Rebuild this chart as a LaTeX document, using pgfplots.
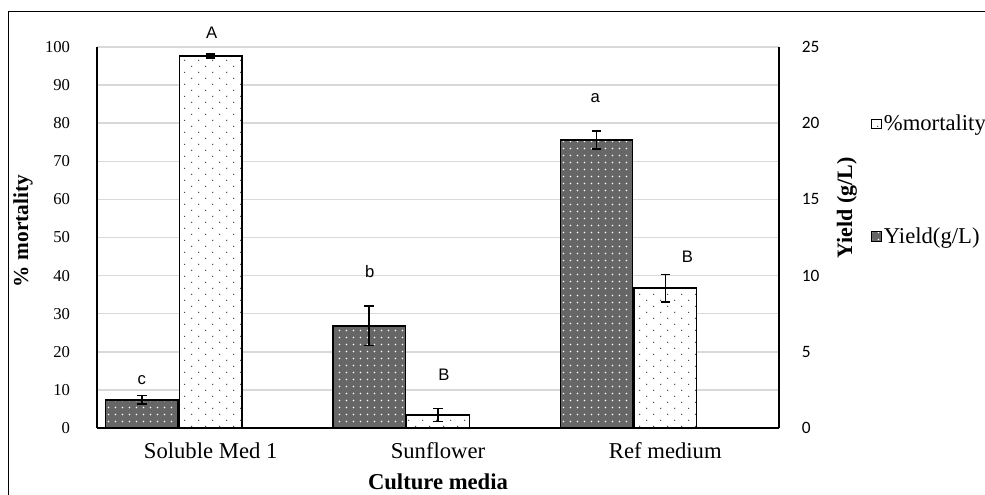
\documentclass[border=0pt]{standalone}
\usepackage{fontspec}
\setmainfont{Liberation Serif}
\newfontfamily\arialf{Liberation Sans}
\newfontfamily\calibrif{Carlito}
\usepackage{pgfplots}
\pgfplotsset{compat=1.18}
\usetikzlibrary{patterns}
\definecolor{gridgray}{RGB}{217,217,217}
\pgfdeclarepatternformonly{sparsedots}{\pgfqpoint{-1pt}{-1pt}}{\pgfqpoint{11.5pt}{10pt}}{\pgfqpoint{10.5pt}{9pt}}{%
  \pgfpathcircle{\pgfqpoint{2pt}{2pt}}{0.55pt}%
  \pgfpathcircle{\pgfqpoint{7.25pt}{6.5pt}}{0.55pt}%
  \pgfusepath{fill}}
\pgfdeclarepatternformonly{whitedots}{\pgfqpoint{-1pt}{-1pt}}{\pgfqpoint{6pt}{6pt}}{\pgfqpoint{5.25pt}{5.25pt}}{%
  \pgfpathcircle{\pgfqpoint{2.6pt}{2.6pt}}{0.7pt}%
  \pgfusepath{fill}}
\pgfplotsset{
  sqlegend/.style={legend image code/.code={\draw[##1, line width=0.7pt] (0pt,-3.6pt) rectangle (7.2pt,3.6pt);}},
  mortstyle/.style={fill=white, draw=black, line width=1.1pt, postaction={pattern=sparsedots, pattern color=black!75}},
  yieldstyle/.style={fill=black!60, draw=black, line width=1.1pt, postaction={pattern=whitedots, pattern color=white}},
}
\begin{document}
\begin{tikzpicture}
\useasboundingbox (0,0) rectangle (738.75pt,371.25pt);
\draw[line width=0.75pt] (6pt,-5pt) -- (6pt,362.25pt) -- (745pt,362.25pt);
% left axis: mortality
\begin{axis}[
  at={(72.75pt,50.25pt)}, anchor=south west,
  scale only axis, width=511.5pt, height=285.75pt,
  xmin=-0.5, xmax=2.5, ymin=0, ymax=100,
  axis x line*=bottom, axis y line*=left,
  axis line style={line width=1.6pt, -},
  xtick={0,1,2}, xticklabels={Soluble Med 1, Sunflower, Ref medium},
  ytick={0,10,...,100},
  major tick length=0pt,
  ymajorgrids, grid style={gridgray, line width=1.1pt},
  xticklabel style={font=\fontsize{17}{20}\selectfont, inner sep=0pt, anchor=north, yshift=-11pt},
  yticklabel style={font=\fontsize{12.5}{15}\selectfont, inner sep=0pt, anchor=east, xshift=-20pt},
  /pgf/number format/assume math mode=true,
  ylabel={\% mortality}, xlabel={Culture media},
  ylabel style={font=\bfseries\fontsize{16}{19}\selectfont, at={(rel axis cs:-0.1085,0.517)}, anchor=center},
  xlabel style={font=\bfseries\fontsize{17}{20}\selectfont, at={(rel axis cs:0.5,-0.1417)}, anchor=center},
  clip=false,
]
\addplot[ybar, bar width=0.275, bar shift=0, mortstyle,
  error bars/.cd, y dir=both, y explicit,
  error bar style={line width=1.2pt, black},
  error mark options={rotate=90, line width=1.2pt, mark size=3.6pt, black}]
  coordinates {(0,97.6) +- (0,0.5) (1,3.4) +- (0,1.7) (2,36.7) +- (0,3.6)};
\node[font=\arialf\fontsize{12.5}{15}\selectfont] at (axis cs:-0.303,12.6) {c};
\node[font=\arialf\fontsize{12.5}{15}\selectfont] at (axis cs:0.005,103.7) {A};
\node[font=\arialf\fontsize{12.5}{15}\selectfont] at (axis cs:0.70,41) {b};
\node[font=\arialf\fontsize{12.5}{15}\selectfont] at (axis cs:1.026,13.9) {B};
\node[font=\arialf\fontsize{12.5}{15}\selectfont] at (axis cs:1.692,86.6) {a};
\node[font=\arialf\fontsize{12.5}{15}\selectfont] at (axis cs:2.097,45) {B};
\end{axis}
% right axis: yield
\begin{axis}[
  at={(72.75pt,50.25pt)}, anchor=south west,
  scale only axis, width=511.5pt, height=285.75pt,
  xmin=-0.5, xmax=2.5, ymin=0, ymax=25,
  axis y line*=right, hide x axis,
  axis line style={line width=1.6pt, -},
  ytick={0,5,...,25}, major tick length=0pt,
  yticklabel style={font=\calibrif\fontsize{13}{15}\selectfont, inner sep=0pt, anchor=west, xshift=17pt},
  /pgf/number format/assume math mode=true,
  ylabel={Yield (g/L)},
  ylabel style={font=\bfseries\fontsize{16.5}{19}\selectfont, at={(rel axis cs:1.0997,0.577)}, anchor=center},
  legend style={at={(rel axis cs:1.135,0.827)}, anchor=north west, draw=none, fill=none,
    font=\fontsize{17}{20}\selectfont, row sep=68pt, inner sep=0pt, nodes={inner sep=1.5pt}},
  legend cell align=left,
  clip=false,
]
\addlegendimage{sqlegend, mortstyle}
\addlegendentry{\%mortality}
\addplot[ybar, bar width=0.318, bar shift=0, yieldstyle, sqlegend,
  error bars/.cd, y dir=both, y explicit,
  error bar style={line width=1.2pt, black},
  error mark options={rotate=90, line width=1.2pt, mark size=3.6pt, black}]
  coordinates {(-0.303,1.84) +- (0,0.28) (0.697,6.7) +- (0,1.3) (1.697,18.9) +- (0,0.6)};
\addlegendentry{Yield(g/L)}
\end{axis}
\end{tikzpicture}
\end{document}
